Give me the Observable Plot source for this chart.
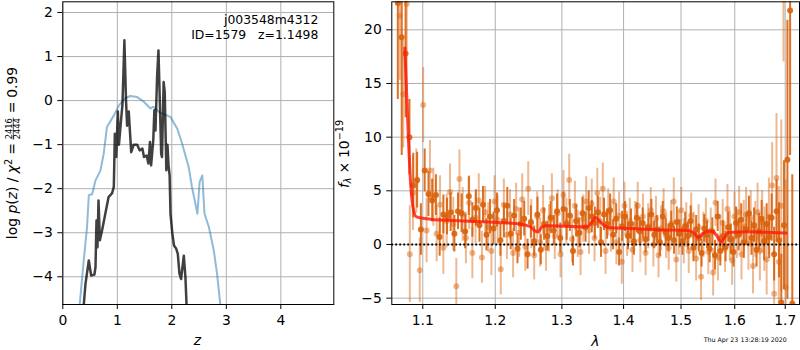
<!DOCTYPE html>
<html><head><meta charset="utf-8">
<script src="https://cdn.jsdelivr.net/npm/d3@7"></script>
<script src="https://cdn.jsdelivr.net/npm/@observablehq/plot@0.6"></script>
<style>
body{margin:0;background:#fff}
#wrap{position:relative;width:800px;height:350px;font-family:"DejaVu Sans";}
#wrap svg{position:absolute;top:0}
</style>
</head><body><div id="wrap"></div>
<script>
// ---------- Left panel data: log p(z) ----------
const zTicks = [0,1,2,3,4];
const pTicks = [-4,-3,-2,-1,0,1,2];
const blueZ = [0.29,0.31,0.384,0.445,0.477,0.54,0.60,0.69,0.75,0.81,0.94,1.03,1.15,1.24,1.365,1.49,1.61,1.66,1.79,1.976,2.10,2.19,2.31,2.37,2.47,2.51,2.56,2.60,2.68,2.77,2.83,2.89,2.91];
const blueP = [-5.0,-4.63,-3.63,-2.87,-2.15,-2.12,-1.81,-1.59,-1.21,-0.60,-0.33,-0.11,0.06,0.105,0.08,-0.03,-0.18,-0.14,-0.28,-0.37,-0.64,-0.98,-1.51,-1.96,-2.57,-1.85,-1.70,-2.57,-2.87,-3.40,-3.93,-4.63,-4.9];
const blackZ = [0.38,0.385,0.416,0.477,0.52,0.58,0.60,0.618,0.636,0.655,0.68,0.72,0.78,0.84,0.905,0.936,0.955,0.98,1.01,1.03,1.06,1.095,1.13,1.16,1.18,1.21,1.255,1.30,1.365,1.41,1.46,1.49,1.54,1.57,1.60,1.62,1.66,1.68,1.70,1.73,1.755,1.78,1.805,1.82,1.85,1.87,1.90,1.92,1.94,1.96,1.976,2.01,2.04,2.08,2.11,2.14,2.17,2.22,2.25,2.27,2.28];
const blackP = [-5.0,-4.63,-4.16,-3.63,-3.97,-3.95,-3.78,-2.72,-3.33,-2.27,-3.17,-2.95,-2.57,-2.19,-2.10,-1.96,-0.75,-1.28,-0.25,-1.0,-0.57,-0.08,1.37,0.0,-0.57,-0.25,-1.17,-1.0,-1.0,-1.13,-1.09,-1.28,-1.25,-1.43,-0.94,-1.47,-0.90,-0.22,-0.68,0.54,1.14,0.0,-1.21,-1.28,0.42,0.2,-1.58,-1.0,-1.47,-1.70,-2.57,-3.02,-3.29,-3.36,-3.48,-3.93,-4.05,-3.52,-4.01,-4.63,-5.0];

// ---------- Right panel data: spectrum ----------
const lTicks = [1.1,1.2,1.3,1.4,1.5,1.6,1.7];
const fTicks = [-5,0,5,10,15,20];
const darkL = [1.0675,1.0725,1.0775,1.0825,1.0875,1.0925,1.0975,1.1025,1.1075,1.1125,
1.1175,1.1225,1.1275,1.1325,1.1375,1.1425,1.1475,1.1525,1.1575,1.1625,
1.1675,1.1725,1.1775,1.1825,1.1875,1.1925,1.1975,1.2025,1.2075,1.2125,
1.2175,1.2225,1.2275,1.2325,1.2375,1.2425,1.2475,1.2525,1.2575,1.2625,
1.2675,1.2725,1.2775,1.2825,1.2875,1.2925,1.2975,1.3025,1.3075,1.3125,
1.3175,1.3225,1.3275,1.3325,1.3375,1.3425,1.3475,1.3525,1.3575,1.3625,
1.3675,1.3725,1.3775,1.3825,1.3875,1.3925,1.3975,1.4025,1.4075,1.4125,
1.4175,1.4225,1.4275,1.4325,1.4375,1.4425,1.4475,1.4525,1.4575,1.4625,
1.4675,1.4725,1.4775,1.4825,1.4875,1.4925,1.4975,1.5025,1.5075,1.5125,
1.5175,1.5225,1.5275,1.5325,1.5375,1.5425,1.5475,1.5525,1.5575,1.5625,
1.5675,1.5725,1.5775,1.5825,1.5875,1.5925,1.5975,1.6025,1.6075,1.6125,
1.6175,1.6225,1.6275,1.6325,1.6375,1.6425,1.6475,1.6525,1.6575,1.6625,
1.6675,1.6725,1.6775,1.6825,1.6875,1.6920,1.6975,1.7045,1.7100,1.7145];
const darkF = [22.5,19.3,17.8,10.0,5.5,6.0,1.4,6.9,4.7,4.1,
4.6,0.7,2.8,2.6,3.0,1.0,3.1,2.9,1.2,4.5,
2.3,3.4,1.8,3.7,0.9,2.6,1.5,3.2,0.4,2.2,
3.6,1.0,2.7,-0.4,1.9,2.4,-0.9,2.1,0.3,2.8,
-0.5,1.9,0.8,2.5,1.3,3.1,0.6,3.3,1.9,2.7,
-0.6,2.2,1.1,2.9,1.6,3.4,2.6,2.0,3.0,0.2,
2.8,1.9,3.2,0.9,2.4,-0.7,1.7,2.6,0.8,1.9,
0.3,2.5,1.2,2.0,0.5,1.6,2.8,0.9,1.4,0.2,
2.6,1.1,0.6,1.8,0.4,2.1,1.0,0.3,1.7,0.8,
2.2,-0.3,1.4,0.6,-0.8,1.5,0.9,-0.4,1.2,-1.0,
2.6,-0.6,0.8,-0.2,1.6,0.5,-0.7,2.0,0.9,2.3,
0.2,1.4,2.9,0.6,1.8,-0.5,1.2,2.4,0.3,1.9,
0.7,2.5,-0.9,3.1,0.4,-5.4,1.8,7.9,21.8,-5.5];
const darkE = [9,11,6,3.5,3.0,2.6,2.4,2.0,2.1,2.0,
1.9,1.8,1.8,1.7,1.8,1.7,1.7,1.8,1.6,1.8,
1.6,1.7,1.6,1.7,1.5,1.6,1.5,1.6,1.5,1.6,
1.7,1.5,1.5,1.4,1.5,1.6,1.4,1.5,1.4,1.6,
1.4,1.5,1.4,1.5,1.4,1.6,1.4,1.6,1.5,1.5,
1.4,1.5,1.4,1.5,1.4,1.6,1.5,1.5,1.5,1.4,
1.5,1.4,1.5,1.4,1.4,1.3,1.4,1.4,1.3,1.4,
1.3,1.4,1.3,1.4,1.3,1.3,1.4,1.3,1.3,1.3,
1.4,1.3,1.3,1.3,1.3,1.4,1.3,1.3,1.3,1.3,
1.4,1.3,1.3,1.3,1.3,1.3,1.3,1.3,1.3,1.4,
1.4,1.4,1.4,1.4,1.4,1.4,1.4,1.5,1.5,1.5,
1.5,1.5,1.6,1.6,1.6,1.6,1.7,1.7,1.8,1.9,
2.0,2.2,2.5,2.9,3.5,4.5,6,13,13.5,12];
const lightL = [1.0700,1.0745,1.0790,1.0830,1.0870,1.0915,1.0960,1.1005,1.1050,1.1095,
1.1140,1.1185,1.1230,1.1275,1.1320,1.1365,1.1410,1.1452,1.1495,1.1540,
1.1585,1.1630,1.1675,1.1720,1.1765,1.1810,1.1855,1.1900,1.1945,1.1990,
1.2035,1.2080,1.2125,1.2170,1.2215,1.2260,1.2305,1.2350,1.2395,1.2440,
1.2485,1.2530,1.2575,1.2620,1.2665,1.2710,1.2755,1.2800,1.2845,1.2890,
1.2935,1.2980,1.3025,1.3070,1.3115,1.3160,1.3205,1.3250,1.3295,1.3340,
1.3385,1.3430,1.3475,1.3520,1.3565,1.3610,1.3655,1.3700,1.3745,1.3790,
1.3835,1.3880,1.3925,1.3970,1.4015,1.4060,1.4105,1.4150,1.4195,1.4240,
1.4285,1.4330,1.4375,1.4420,1.4465,1.4510,1.4555,1.4600,1.4645,1.4690,
1.4735,1.4780,1.4825,1.4870,1.4915,1.4960,1.5005,1.5050,1.5095,1.5140,
1.5185,1.5230,1.5275,1.5320,1.5365,1.5410,1.5455,1.5500,1.5545,1.5590,
1.5635,1.5680,1.5725,1.5770,1.5815,1.5860,1.5905,1.5950,1.5995,1.6040,
1.6085,1.6130,1.6175,1.6220,1.6265,1.6310,1.6355,1.6400,1.6445,1.6490,
1.6535,1.6580,1.6625,1.6670,1.6735,1.6775,1.6823,1.6870,1.6920,1.6965,1.7010];
const lightF = [21.3,14.0,22.4,-0.9,4.8,5.9,-2.4,13.0,1.3,6.9,
4.4,1.0,3.7,-0.3,2.2,4.9,1.9,-3.9,6.1,2.8,
0.6,3.9,-0.8,2.5,4.1,-1.2,3.0,1.6,-0.6,4.0,
2.3,-2.3,3.7,0.9,2.8,-0.8,3.3,1.1,4.2,-0.2,
5.2,1.9,-1.0,2.6,0.2,3.2,-0.3,1.5,4.3,0.8,
2.9,-0.9,4.6,2.1,6.0,0.5,3.6,1.0,-0.7,2.4,
4.0,1.3,3.8,0.6,4.8,2.2,5.2,-0.6,3.0,1.5,
4.0,0.2,2.7,-1.6,3.6,1.0,2.2,-0.5,1.9,3.6,
0.4,2.6,-0.8,1.7,3.2,0.0,2.4,-1.0,1.5,3.1,
0.8,-0.3,2.0,4.0,-1.4,1.1,3.2,0.3,1.8,-0.6,
2.7,0.9,-1.3,1.6,-3.0,0.9,2.2,-0.7,1.3,-2.6,
3.9,-1.2,0.6,2.0,-0.4,3.3,0.8,-1.5,2.6,1.0,
3.0,-0.9,1.7,2.8,0.1,2.5,-2.0,1.4,3.0,-0.6,
2.1,0.5,-1.4,2.6,5.5,-4.6,6.2,-1.6,3.6,26,-4.0];
const lightE = [6,5,8,4.5,3.5,3,3,3.5,3,2.8,
2.7,2.6,2.7,2.5,2.5,2.6,2.5,2.6,2.7,2.5,
2.4,2.5,2.4,2.4,2.5,2.4,2.4,2.3,2.3,2.4,
2.3,2.4,2.4,2.3,2.3,2.3,2.4,2.3,2.4,2.3,
2.5,2.3,2.3,2.3,2.3,2.3,2.2,2.2,2.3,2.2,
2.2,2.2,2.3,2.2,2.4,2.2,2.3,2.2,2.2,2.2,
2.3,2.2,2.3,2.2,2.3,2.2,2.4,2.2,2.2,2.2,
2.2,2.1,2.2,2.1,2.2,2.1,2.1,2.1,2.1,2.2,
2.1,2.1,2.1,2.1,2.1,2.1,2.1,2.1,2.1,2.1,
2.1,2.1,2.1,2.2,2.1,2.1,2.1,2.1,2.1,2.1,
2.1,2.1,2.1,2.1,2.2,2.1,2.1,2.1,2.1,2.2,
2.2,2.2,2.2,2.2,2.2,2.3,2.3,2.3,2.3,2.3,
2.4,2.4,2.4,2.5,2.5,2.5,2.6,2.6,2.7,2.8,
2.9,3.0,3.3,3.6,4,5,6,7,8,9,10];
const modelL = [1.0765,1.0809,1.0843,1.0874,1.0917,1.1026,1.1102,1.1555,1.2027,1.2369,1.2518,1.2593,1.2634,1.2695,1.2771,1.3028,1.3399,1.3480,1.3534,1.3587,1.3669,1.3779,1.4114,1.4690,1.5108,1.5228,1.5320,1.5382,1.5475,1.5568,1.5662,1.5737,1.5800,1.5882,1.6236,1.7000,1.7020];
const modelF = [18.3,10.3,5.4,3.35,2.57,2.42,2.36,2.2,2.06,1.9,1.65,1.24,1.17,1.65,1.74,1.71,1.65,2.11,2.51,2.27,1.8,1.55,1.5,1.36,1.31,1.12,0.65,0.93,1.24,1.24,0.78,0.24,0.62,1.12,1.18,1.08,1.08];

const blue = blueZ.map((z,i)=>({z, p: blueP[i]}));
const black = blackZ.map((z,i)=>({z, p: blackP[i]}));
const dark = darkL.map((l,i)=>({l, f: darkF[i], e: darkE[i]}));
const light = lightL.map((l,i)=>({l, f: lightF[i], e: lightE[i]}));
const model = modelL.map((l,i)=>({l, f: modelF[i]}));

const FS = 13.9;
const baseStyle = {fontFamily: "DejaVu Sans", fontSize: FS + "px", color: "black", background: "none", overflow: "visible"};
const GRID = "#b0b0b0";
const OR = "#d9620c";
const wrap = document.getElementById("wrap");

const left = Plot.plot({
  width: 336, height: 350,
  marginLeft: 62.3, marginRight: 2.7, marginTop: 1.3, marginBottom: 46,
  style: baseStyle,
  x: {domain: [0, 4.972], ticks: zTicks, tickFormat: d3.format("d"), tickSize: 5, tickPadding: 6, label: null},
  y: {domain: [-4.629, 2.243], ticks: pTicks, tickFormat: d3.format("d"), tickSize: 5, tickPadding: 5, label: null},
  marks: [
    Plot.ruleX(zTicks, {stroke: GRID, strokeWidth: 1}),
    Plot.ruleY(pTicks, {stroke: GRID, strokeWidth: 1}),
    Plot.line(blue, {x: "z", y: "p", stroke: "#1f77b4", strokeOpacity: 0.5, strokeWidth: 2, clip: true}),
    Plot.line(black, {x: "z", y: "p", stroke: "black", strokeOpacity: 0.75, strokeWidth: 2.5, clip: true}),
    Plot.frame({stroke: "black", strokeWidth: 1})
  ]
});
left.style.left = "0px";
wrap.appendChild(left);

const right = Plot.plot({
  width: 464, height: 350,
  marginLeft: 55.3, marginRight: 1, marginTop: 1.3, marginBottom: 46,
  style: baseStyle,
  x: {type: "log", domain: [1.0598, 1.7294], ticks: lTicks, tickFormat: d3.format(".1f"), tickSize: 5, tickPadding: 6, label: null},
  y: {domain: [-5.59, 22.61], ticks: fTicks, tickFormat: d3.format("d"), tickSize: 5, tickPadding: 5, label: null},
  marks: [
    Plot.ruleX(lTicks, {stroke: GRID, strokeWidth: 1}),
    Plot.ruleY(fTicks, {stroke: GRID, strokeWidth: 1}),
    Plot.ruleX(light, {x: "l", y1: d => d.f - d.e, y2: d => d.f + d.e, stroke: OR, strokeOpacity: 0.45, strokeWidth: 2, clip: true}),
    Plot.dot(light, {x: "l", y: "f", r: 3, fill: OR, fillOpacity: 0.45, stroke: "none", clip: true}),
    Plot.ruleX(dark, {x: "l", y1: d => d.f - d.e, y2: d => d.f + d.e, stroke: OR, strokeOpacity: 0.9, strokeWidth: 2, clip: true}),
    Plot.dot(dark, {x: "l", y: "f", r: 3, fill: OR, fillOpacity: 0.9, stroke: "none", clip: true}),
    Plot.ruleY([0], {stroke: "black", strokeWidth: 2, strokeDasharray: "1.8,2.2"}),
    Plot.line(model, {x: "l", y: "f", stroke: "#ff1a0a", strokeOpacity: 0.82, strokeWidth: 3, curve: "monotone-x", clip: true}),
    Plot.frame({stroke: "black", strokeWidth: 1})
  ]
});
right.style.left = "336px";
wrap.appendChild(right);

// ---------- overlay text ----------
const ov = d3.create("svg").attr("width", 800).attr("height", 350)
  .style("left", "0px").style("pointer-events", "none")
  .attr("font-family", "DejaVu Sans").attr("fill", "black");
wrap.appendChild(ov.node());

function txt(x, y, s, opts = {}) {
  return ov.append("text").attr("x", x).attr("y", y)
    .attr("font-size", opts.size || FS)
    .attr("text-anchor", opts.anchor || "start")
    .attr("font-style", opts.it ? "italic" : null)
    .style("white-space", "pre")
    .text(s);
}
txt(318.3, 24, "j003548m4312", {size: 12.4, anchor: "end"});
txt(318.3, 39.3, "ID=1579   z=1.1498", {size: 12.4, anchor: "end"});
txt(197.5, 345, "z", {anchor: "middle", it: true});
txt(595.3, 346, "λ", {anchor: "middle", it: true});
txt(786.7, 341.7, "Thu Apr 23 13:28:19 2020", {size: 6.3, anchor: "end"});

function mathLabel(x, y, pieces) {
  const g = ov.append("g").attr("transform", `translate(${x},${y}) rotate(-90)`);
  const inner = g.append("g");
  let cx = 0;
  for (const p of pieces) {
    if (p.gap) { cx += p.gap; continue; }
    if (p.frac) {
      const a = inner.append("text").attr("x", cx).attr("y", p.numY).attr("font-size", p.size).text(p.frac[0]);
      const b = inner.append("text").attr("x", cx).attr("y", p.denY).attr("font-size", p.size).text(p.frac[1]);
      const w = Math.max(a.node().getComputedTextLength(), b.node().getComputedTextLength());
      inner.append("line").attr("x1", cx - 0.5).attr("x2", cx + w + 0.5)
        .attr("y1", p.barY).attr("y2", p.barY).attr("stroke", "black").attr("stroke-width", 0.7);
      cx += w + 1;
      continue;
    }
    const t = inner.append("text").attr("x", cx).attr("y", p.dy || 0)
      .attr("font-size", p.size || FS).attr("font-style", p.it ? "italic" : null).text(p.t);
    cx += t.node().getComputedTextLength();
  }
  inner.attr("transform", `translate(${-cx / 2},0)`);
}
mathLabel(17, 153, [
  {t: "log"}, {gap: 4.4}, {t: "p", it: 1}, {t: "("}, {t: "z", it: 1}, {t: ")"}, {gap: 4.4},
  {t: "/"}, {gap: 4.4}, {t: "χ", it: 1}, {t: "2", size: 9.7, dy: -5.5}, {gap: 3.9}, {t: "="}, {gap: 3.9},
  {frac: ["2416", "2444"], size: 8.3, numY: -4.6, denY: 3.2, barY: -3.7},
  {gap: 3.9}, {t: "="}, {gap: 3.9}, {t: "0.99"}
]);
mathLabel(348.5, 154, [
  {t: "f", it: 1}, {t: "λ", it: 1, size: 9.7, dy: 2.8}, {gap: 3.9}, {t: "×"}, {gap: 3.9},
  {t: "10"}, {t: "−19", size: 9.7, dy: -5.6}
]);
</script>
</body></html>
